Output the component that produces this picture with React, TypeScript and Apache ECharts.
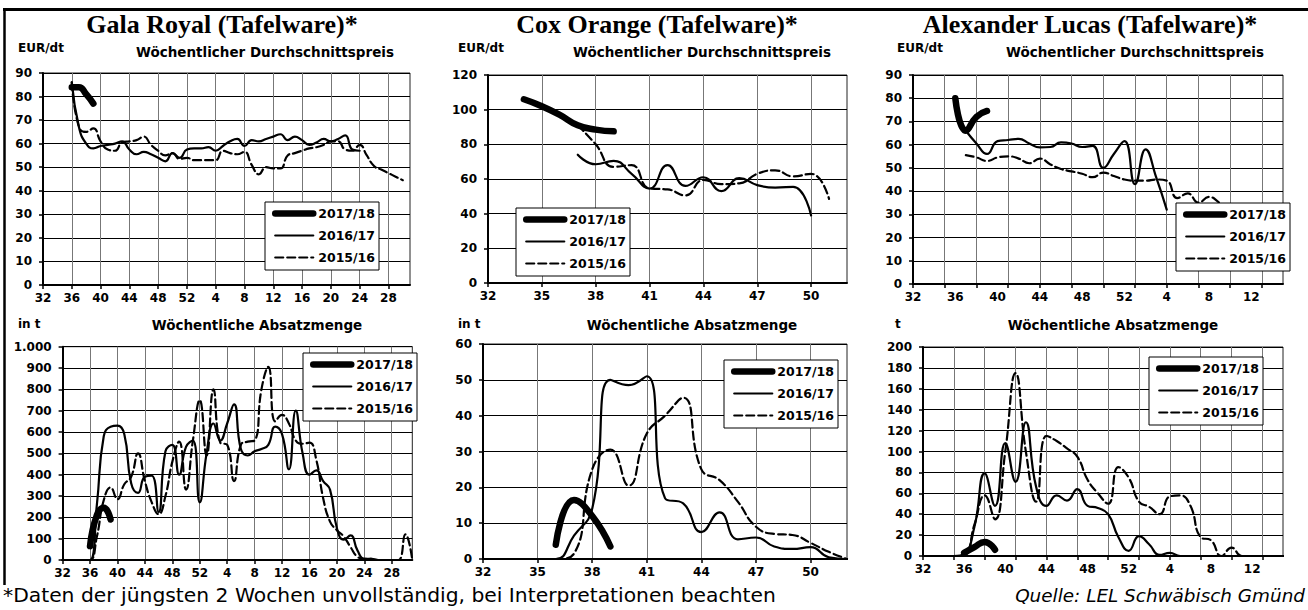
import React, { useEffect, useRef } from "react";
import * as echarts from "echarts";

// ---------------- categories (calendar weeks) ----------------
const galaWeeks = [32, 33, 34, 35, 36, 37, 38, 39, 40, 41, 42, 43, 44, 45, 46, 47, 48, 49, 50, 51, 52, 1, 2, 3, 4, 5, 6, 7, 8, 9, 10, 11, 12, 13, 14, 15, 16, 17, 18, 19, 20, 21, 22, 23, 24, 25, 26, 27, 28, 29, 30, 31];
const coxWeeks = [32, 33, 34, 35, 36, 37, 38, 39, 40, 41, 42, 43, 44, 45, 46, 47, 48, 49, 50, 51, 52];
const alexWeeks = [32, 33, 34, 35, 36, 37, 38, 39, 40, 41, 42, 43, 44, 45, 46, 47, 48, 49, 50, 51, 52, 1, 2, 3, 4, 5, 6, 7, 8, 9, 10, 11, 12, 13, 14, 15];

const seasons = ["2017/18", "2016/17", "2015/16"];

// ---------------- Gala Royal ----------------
const galaPrice1718Start = 4;
const galaPrice1718 = [84, 84, 81, 77];
const galaPrice1617Start = 4;
const galaPrice1617 = [86, 67, 60, 58, 59, 59.5, 60, 61, 57.5, 55.5, 56.5, 55.5, 54, 52.5, 56, 54, 57.5, 58, 58, 58.5, 57, 59, 61, 62, 59, 61.5, 61, 62, 63, 64, 61.5, 63, 61.5, 59.5, 60.5, 62, 61, 62, 63.5, 57.5, 57];
const galaPrice1516Start = 4;
const galaPrice1516 = [86, 67, 65, 66.5, 61, 57.5, 57, 60.5, 61, 61.5, 63, 59.5, 57, 55, 56, 53.5, 54, 53, 53, 53, 53, 57, 56, 55.5, 56.5, 51, 47, 50, 49.5, 49.5, 55, 56, 57, 58, 58.5, 59.5, 61, 61, 57.5, 57, 59.5, 55, 50.5, 49, 47.5, 46, 44.5];

const galaVol1718Start = 4;
const galaVol1718 = [65, 210, 245, 190];
const galaVol1617Start = 0;
const galaVol1617 = [0, 0, 0, 0, 0, 260, 580, 625, 630, 590, 360, 315, 390, 395, 225, 510, 540, 400, 530, 560, 270, 500, 640, 560, 640, 730, 520, 490, 510, 520, 540, 625, 590, 425, 700, 500, 400, 420, 370, 330, 150, 95, 115, 45, 5, 5, 0, 0, 0];
const galaVol1516Start = 0;
const galaVol1516 = [0, 0, 0, 0, 0, 110, 280, 340, 285, 355, 390, 500, 370, 270, 215, 300, 460, 555, 330, 560, 750, 490, 800, 550, 540, 370, 540, 555, 560, 800, 905, 650, 680, 640, 560, 545, 550, 470, 290, 180, 140, 110, 60, 15, 5, 5, 0, 0, 0, 0, 120, 0];

// ---------------- Cox Orange ----------------
const coxPrice1718Start = 2;
const coxPrice1718 = [106, 102, 97, 91, 88.5, 87.5];
const coxPrice1617Start = 5;
const coxPrice1617 = [74, 68.5, 70.5, 63, 54.5, 68, 56, 61, 53, 60.5, 56.5, 55, 55.5, 39];
const coxPrice1516Start = 5;
const coxPrice1516 = [91, 80, 67, 68, 54.5, 54, 50.5, 59.5, 57, 57.5, 63, 65, 61.5, 63, 48.5];

const coxVol1718Start = 4;
const coxVol1718 = [4, 16.5, 12, 3.5];
const coxVol1617Start = 0;
const coxVol1617 = [0, 0, 0, 0, 0, 6.5, 14, 50, 48.5, 51, 17, 15.5, 7.5, 13, 5.5, 6, 3.5, 2.8, 3.3, 0.5, 0];
const coxVol1516Start = 0;
const coxVol1516 = [0, 0, 0, 0, 0, 1.5, 25, 30.5, 20.5, 35, 40, 45, 25, 22, 16, 9, 7, 6.7, 4.5, 2, 0];

// ---------------- Alexander Lucas ----------------
const alexPrice1718Start = 4;
const alexPrice1718 = [80, 66, 72, 74.5];
const alexPrice1617Start = 5;
const alexPrice1617 = [66, 60.5, 56, 61.5, 62, 62.5, 60.5, 58.8, 59, 61, 60.5, 59, 59.5, 50, 56, 61.5, 43, 58, 46, 32];
const alexPrice1516Start = 5;
const alexPrice1516 = [55.5, 54.5, 53, 54.5, 55, 54, 52, 54, 51.5, 49.5, 48.5, 47.5, 46, 48, 46.5, 45, 44.5, 44.5, 45, 44.5, 37, 39, 35, 37.5, 35, 32];

const alexVol1718Start = 4;
const alexVol1718 = [3, 8.5, 13.5, 6];
const alexVol1617Start = 0;
const alexVol1617 = [0, 0, 0, 0, 2, 28, 79, 48, 108, 71, 128, 66, 48, 58, 53, 64, 48, 46, 40, 18, 5, 19, 11, 1, 3, 0, 0, 0, 0, 0, 0, 0, 0, 0, 0, 0];
const alexVol1516Start = 0;
const alexVol1516 = [0, 0, 0, 0, 0, 30, 58, 35, 100, 175, 100, 52, 115, 110, 103, 95, 73, 60, 50, 85, 75, 52, 47, 40, 57, 58, 48, 18, 15, 0, 8, 0, 0, 0, 0, 0];

// ---------------- helpers ----------------
const AX_FONT = "DejaVu Sans";
const pts = (start: number, vals: number[]) => vals.map((v, i) => [start + i, v]);

const seasonStyle: Record<string, any> = {
  "2017/18": { width: 6.5, type: "solid", z: 5 },
  "2016/17": { width: 2.2, type: "solid", z: 4 },
  "2015/16": { width: 2.2, type: [8, 4], z: 3 },
};

type Panel = {
  grid: { left: number; top: number; width: number; height: number };
  cats: number[];
  labelInt: number;
  gridInt: number;
  yMax: number;
  yStep: number;
  yFmt?: (v: number) => string;
  legend: { left: number; top: number };
  data: [number, number[]][];
};

const panels: Panel[] = [
  {
    grid: { left: 43, top: 73, width: 367, height: 212 },
    cats: galaWeeks, labelInt: 3, gridInt: 3, yMax: 90, yStep: 10,
    legend: { left: 265, top: 202 },
    data: [[galaPrice1718Start, galaPrice1718], [galaPrice1617Start, galaPrice1617], [galaPrice1516Start, galaPrice1516]],
  },
  {
    grid: { left: 62.6, top: 346.7, width: 349.7, height: 213.3 },
    cats: galaWeeks, labelInt: 3, gridInt: 3, yMax: 1000, yStep: 100,
    yFmt: (v: number) => (v >= 1000 ? "1.000" : String(v)),
    legend: { left: 303, top: 353 },
    data: [[galaVol1718Start, galaVol1718], [galaVol1617Start, galaVol1617], [galaVol1516Start, galaVol1516]],
  },
  {
    grid: { left: 488, top: 75, width: 359, height: 208 },
    cats: coxWeeks, labelInt: 2, gridInt: 2, yMax: 120, yStep: 20,
    legend: { left: 516, top: 208 },
    data: [[coxPrice1718Start, coxPrice1718], [coxPrice1617Start, coxPrice1617], [coxPrice1516Start, coxPrice1516]],
  },
  {
    grid: { left: 483, top: 344, width: 364, height: 215 },
    cats: coxWeeks, labelInt: 2, gridInt: 2, yMax: 60, yStep: 10,
    legend: { left: 724, top: 360 },
    data: [[coxVol1718Start, coxVol1718], [coxVol1617Start, coxVol1617], [coxVol1516Start, coxVol1516]],
  },
  {
    grid: { left: 913, top: 75, width: 370, height: 209 },
    cats: alexWeeks, labelInt: 3, gridInt: 2, yMax: 90, yStep: 10,
    legend: { left: 1176, top: 203 },
    data: [[alexPrice1718Start, alexPrice1718], [alexPrice1617Start, alexPrice1617], [alexPrice1516Start, alexPrice1516]],
  },
  {
    grid: { left: 923, top: 347, width: 360, height: 209 },
    cats: alexWeeks, labelInt: 3, gridInt: 2, yMax: 200, yStep: 20,
    legend: { left: 1149, top: 357 },
    data: [[alexVol1718Start, alexVol1718], [alexVol1617Start, alexVol1617], [alexVol1516Start, alexVol1516]],
  },
];

const txt = (text: string, x: number, y: number, font: string, align = "left") => ({
  type: "text",
  x,
  y,
  silent: true,
  style: {
    text,
    font,
    fill: "#000",
    align,
    verticalAlign: "middle",
    textAlign: align,
    textVerticalAlign: "middle",
  },
});

function buildOption() {
  const grid: any[] = [];
  const xAxis: any[] = [];
  const yAxis: any[] = [];
  const series: any[] = [];
  const legend: any[] = [];

  panels.forEach((p, i) => {
    grid.push({ ...p.grid, show: true, borderColor: "#222", borderWidth: 1, backgroundColor: "transparent", containLabel: false });
    xAxis.push({
      type: "category",
      gridIndex: i,
      data: p.cats.map(String),
      boundaryGap: false,
      axisLine: { show: true, onZero: false, lineStyle: { color: "#000", width: 2 } },
      axisTick: { show: true, inside: false, length: 4, interval: p.gridInt, lineStyle: { color: "#000", width: 1.5 } },
      axisLabel: { show: true, interval: p.labelInt, margin: 7, color: "#000", fontFamily: AX_FONT, fontWeight: "bold", fontSize: 12 },
      splitLine: { show: true, interval: p.gridInt, lineStyle: { color: "#777", width: 1 } },
    });
    yAxis.push({
      type: "value",
      gridIndex: i,
      min: 0,
      max: p.yMax,
      interval: p.yStep,
      axisLine: { show: true, lineStyle: { color: "#000", width: 2 } },
      axisTick: { show: true, inside: false, length: 4, lineStyle: { color: "#000", width: 1.5 } },
      axisLabel: {
        margin: 11,
        color: "#000",
        fontFamily: AX_FONT,
        fontWeight: "bold",
        fontSize: 12,
        formatter: p.yFmt ? p.yFmt : (v: number) => String(v),
      },
      splitLine: { show: true, lineStyle: { color: "#000", width: 1 } },
    });
    p.data.forEach(([start, vals], k) => {
      const name = seasons[k];
      const st = seasonStyle[name];
      series.push({
        type: "line",
        name,
        xAxisIndex: i,
        yAxisIndex: i,
        data: pts(start, vals),
        symbol: "none",
        smooth: 0.5,
        silent: true,
        z: st.z,
        color: "#000",
        itemStyle: { color: "#000" },
        lineStyle: { color: "#000", width: st.width, type: st.type, cap: "round", join: "round" },
      });
    });
    legend.push({
      orient: "vertical",
      left: p.legend.left,
      top: p.legend.top,
      data: seasons,
      selectedMode: false,
      itemWidth: 38,
      itemHeight: 14,
      itemGap: 9,
      padding: [5, 4, 6, 7],
      backgroundColor: "#fff",
      borderColor: "#000",
      borderWidth: 1,
      borderRadius: 0,
      itemStyle: { opacity: 0 },
      lineStyle: { width: "inherit", type: "inherit", color: "#000", cap: "round" },
      textStyle: { color: "#000", fontFamily: AX_FONT, fontWeight: "bold", fontSize: 12.5 },
      z: 10,
    });
  });

  const TITLE = 'bold 26px "Liberation Serif"';
  const SUB = `bold 13.5px "${AX_FONT}"`;
  const UNIT = `bold 12px "${AX_FONT}"`;

  const graphic = [
    { type: "line", silent: true, shape: { x1: 3, y1: 9.5, x2: 1308, y2: 9.5 }, style: { stroke: "#000", lineWidth: 3 } },
    { type: "line", silent: true, shape: { x1: 4.5, y1: 8, x2: 4.5, y2: 585 }, style: { stroke: "#000", lineWidth: 2.5 } },
    txt("Gala Royal (Tafelware)*", 222, 24, TITLE, "center"),
    txt("Cox Orange (Tafelware)*", 657, 24, TITLE, "center"),
    txt("Alexander Lucas (Tafelware)*", 1090, 24, TITLE, "center"),
    txt("EUR/dt", 18, 48, UNIT),
    txt("EUR/dt", 458, 48, UNIT),
    txt("EUR/dt", 897, 48, UNIT),
    txt("Wöchentlicher Durchschnittspreis", 265, 52, SUB, "center"),
    txt("Wöchentlicher Durchschnittspreis", 702, 52, SUB, "center"),
    txt("Wöchentlicher Durchschnittspreis", 1135, 52, SUB, "center"),
    txt("in t", 18, 324, UNIT),
    txt("in t", 458, 324, UNIT),
    txt("t", 895, 324, UNIT),
    txt("Wöchentliche Absatzmenge", 257, 325, SUB, "center"),
    txt("Wöchentliche Absatzmenge", 692, 325, SUB, "center"),
    txt("Wöchentliche Absatzmenge", 1113, 325, SUB, "center"),
    txt("*Daten der jüngsten 2 Wochen unvollständig, bei Interpretationen beachten", 3, 595, `20.3px "${AX_FONT}"`),
    txt("Quelle: LEL Schwäbisch Gmünd", 1305, 595, `italic 18.4px "${AX_FONT}"`, "right"),
  ];

  return {
    animation: false,
    backgroundColor: "#fff",
    grid,
    xAxis,
    yAxis,
    series,
    legend,
    graphic,
  };
}

export default function App() {
  const ref = useRef<HTMLDivElement>(null);
  useEffect(() => {
    if (!ref.current) return;
    const chart = echarts.init(ref.current, undefined, { renderer: "svg", width: 1308, height: 610 });
    chart.setOption(buildOption() as any);
    return () => chart.dispose();
  }, []);
  return <div ref={ref} style={{ position: "absolute", left: 0, top: 0, width: 1308, height: 610, background: "#fff" }} />;
}
